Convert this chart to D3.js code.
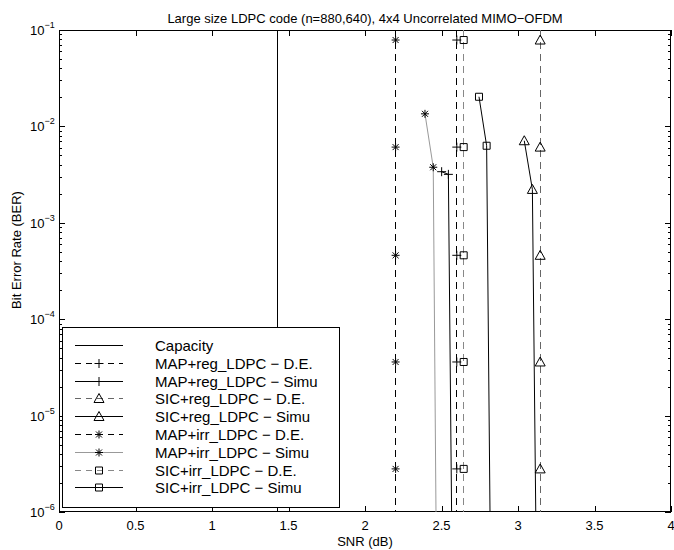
<!DOCTYPE html>
<html lang="en">
<head>
<meta charset="UTF-8">
<title>Large size LDPC code BER</title>
<script src="https://d3js.org/d3.v7.min.js"></script>
<style>
    body { margin: 0; background: #fff; }
    svg text { font-family: "Liberation Sans", Arial, sans-serif; fill: #000; }
</style>
</head>
<body>
<svg id="chart"></svg>
<script>
const width = 674, height = 550;
const plot = {left: 59, right: 671, top: 30, bottom: 512};

// axes
const snrTicks = [0, 0.5, 1, 1.5, 2, 2.5, 3, 3.5, 4];
const berExps = [-1, -2, -3, -4, -5, -6];

// capacity
const capacitySnr = [1.425, 1.425];
const capacityBer = [1e-1, 1e-6];

// density evolution thresholds (vertical dashed lines, same marker levels)
const deBer = [1e-1, 0.0787, 0.0061, 4.6e-4, 3.6e-5, 2.8e-6, 1e-6];
const mapRegDeSnr = [2.6, 2.6, 2.6, 2.6, 2.6, 2.6, 2.6];
const sicRegDeSnr = [3.145, 3.145, 3.145, 3.145, 3.145, 3.145, 3.145];
const mapIrrDeSnr = [2.2, 2.2, 2.2, 2.2, 2.2, 2.2, 2.2];
const sicIrrDeSnr = [2.645, 2.645, 2.645, 2.645, 2.645, 2.645, 2.645];

// simulations
const mapRegSimuSnr = [2.501, 2.545, 2.566];
const mapRegSimuBer = [3.39e-3, 3.18e-3, 1e-6];
const sicRegSimuSnr = [3.041, 3.094, 3.116];
const sicRegSimuBer = [7.1e-3, 2.22e-3, 1e-6];
const mapIrrSimuSnr = [2.392, 2.446, 2.464];
const mapIrrSimuBer = [1.35e-2, 3.77e-3, 1e-6];
const sicIrrSimuSnr = [2.745, 2.795, 2.817];
const sicIrrSimuBer = [2.03e-2, 6.3e-3, 1e-6];

const series = [
    {name: "Capacity", snr: capacitySnr, ber: capacityBer, color: "#000", dash: null, marker: null, crisp: true},
    {name: "MAP+reg_LDPC \u2212 D.E.", snr: mapRegDeSnr, ber: deBer, color: "#000", dash: "7,5", marker: "plus", crisp: true},
    {name: "MAP+reg_LDPC \u2212 Simu", snr: mapRegSimuSnr, ber: mapRegSimuBer, color: "#000", dash: null, marker: "plus"},
    {name: "SIC+reg_LDPC \u2212 D.E.", snr: sicRegDeSnr, ber: deBer, color: "#666", dash: "7,5", marker: "tri", crisp: true},
    {name: "SIC+reg_LDPC \u2212 Simu", snr: sicRegSimuSnr, ber: sicRegSimuBer, color: "#000", dash: null, marker: "tri"},
    {name: "MAP+irr_LDPC \u2212 D.E.", snr: mapIrrDeSnr, ber: deBer, color: "#000", dash: "7,5", marker: "star", crisp: true},
    {name: "MAP+irr_LDPC \u2212 Simu", snr: mapIrrSimuSnr, ber: mapIrrSimuBer, color: "#999", dash: null, marker: "star"},
    {name: "SIC+irr_LDPC \u2212 D.E.", snr: sicIrrDeSnr, ber: deBer, color: "#888", dash: "7,5", marker: "square", crisp: true},
    {name: "SIC+irr_LDPC \u2212 Simu", snr: sicIrrSimuSnr, ber: sicIrrSimuBer, color: "#000", dash: null, marker: "square"}
];

const markerPaths = {
    plus: "M-4.5,0H4.5M0,-4.5V4.5",
    star: "M-4,0H4M0,-4V4M-3,-3L3,3M-3,3L3,-3",
    tri: "M0,-5L5,4L-5,4Z",
    square: "M-3.5,-3.5H3.5V3.5H-3.5Z"
};

const svg = d3.select("#chart").attr("width", width).attr("height", height);

const x = d3.scaleLinear().domain([0, 4]).range([plot.left, plot.right]);
const y = d3.scaleLog().domain([1e-6, 1e-1]).range([plot.bottom, plot.top]);

svg.append("defs").append("clipPath").attr("id", "clip")
    .append("rect").attr("x", plot.left).attr("y", plot.top)
    .attr("width", plot.right - plot.left).attr("height", plot.bottom - plot.top);

// box
svg.append("rect")
    .attr("x", plot.left + 0.5).attr("y", plot.top + 0.5)
    .attr("width", plot.right - plot.left - 1).attr("height", plot.bottom - plot.top - 1)
    .attr("fill", "#fff").attr("stroke", "#000");

// x ticks (inside, top and bottom)
const tickG = svg.append("g").attr("stroke", "#000");
snrTicks.forEach(t => {
    const px = Math.round(x(t)) + 0.5;
    tickG.append("line").attr("x1", px).attr("x2", px).attr("y1", plot.bottom).attr("y2", plot.bottom - 6);
    tickG.append("line").attr("x1", px).attr("x2", px).attr("y1", plot.top).attr("y2", plot.top + 6);
    svg.append("text").attr("x", x(t)).attr("y", 530).attr("text-anchor", "middle")
        .attr("font-size", 13).text(t);
});

// y ticks (log, major + minor)
berExps.forEach(e => {
    const py = Math.round(y(Math.pow(10, e))) + 0.5;
    tickG.append("line").attr("x1", plot.left).attr("x2", plot.left + 6).attr("y1", py).attr("y2", py);
    tickG.append("line").attr("x1", plot.right).attr("x2", plot.right - 6).attr("y1", py).attr("y2", py);
    const lbl = svg.append("text").attr("x", 30).attr("y", y(Math.pow(10, e)) + 5).attr("font-size", 13);
    lbl.append("tspan").text("10");
    lbl.append("tspan").attr("dy", -7).attr("font-size", 9).text("\u2212" + (-e));
    if (e > -6) {
        d3.range(2, 10).forEach(m => {
            const my = Math.round(y(m * Math.pow(10, e - 1))) + 0.5;
            tickG.append("line").attr("x1", plot.left).attr("x2", plot.left + 3).attr("y1", my).attr("y2", my);
            tickG.append("line").attr("x1", plot.right).attr("x2", plot.right - 3).attr("y1", my).attr("y2", my);
        });
    }
});

// curves
const line = d3.line().x(d => x(d[0])).y(d => y(d[1]));
const curves = svg.append("g").attr("clip-path", "url(#clip)");
series.forEach(s => {
    const pts = s.snr.map((v, i) => [v, s.ber[i]]);
    curves.append("path").attr("d", line(pts)).attr("fill", "none")
        .attr("stroke", s.color).attr("stroke-width", 1)
        .attr("stroke-dasharray", s.dash)
        .attr("shape-rendering", s.crisp ? "crispEdges" : null);
    if (s.marker) {
        curves.selectAll(null).data(pts.filter(p => p[1] < 0.1 && p[1] > 1e-6)).join("path")
            .attr("transform", d => `translate(${x(d[0])},${y(d[1])})`)
            .attr("d", markerPaths[s.marker])
            .attr("fill", "none").attr("stroke", "#000").attr("stroke-width", 1);
    }
});

// titles
svg.append("text").attr("x", (plot.left + plot.right) / 2).attr("y", 23)
    .attr("text-anchor", "middle").attr("font-size", 13)
    .text("Large size LDPC code (n=880,640), 4x4 Uncorrelated MIMO\u2212OFDM");
svg.append("text").attr("x", (plot.left + plot.right) / 2).attr("y", 546)
    .attr("text-anchor", "middle").attr("font-size", 13).text("SNR (dB)");
svg.append("text").attr("transform", "translate(21,250) rotate(-90)")
    .attr("text-anchor", "middle").attr("font-size", 13).text("Bit Error Rate (BER)");

// legend
const legend = svg.append("g");
legend.append("rect").attr("x", 62.5).attr("y", 327.5).attr("width", 277).attr("height", 180)
    .attr("fill", "#fff").attr("stroke", "#000");
series.forEach((s, i) => {
    const ly = Math.round(345 + i * 17.8) + 0.5;
    legend.append("line").attr("x1", 75).attr("x2", 123).attr("y1", ly).attr("y2", ly)
        .attr("stroke", s.color).attr("stroke-dasharray", s.dash ? "6,5" : null);
    if (s.marker) {
        legend.append("path").attr("transform", `translate(99,${ly})`).attr("d", markerPaths[s.marker])
            .attr("fill", "none").attr("stroke", "#000");
    }
    legend.append("text").attr("x", 155).attr("y", ly + 5).attr("font-size", 15).text(s.name);
});
</script>
</body>
</html>
